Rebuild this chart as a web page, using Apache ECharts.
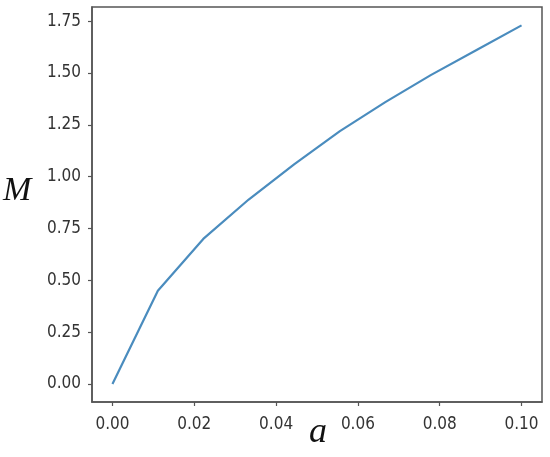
<!DOCTYPE html>
<html>
<head>
<meta charset="utf-8">
<script src="https://cdn.jsdelivr.net/npm/echarts@6/dist/echarts.min.js"></script>
<style>
  html, body { margin: 0; padding: 0; background: #fff; }
  #chart { width: 550px; height: 457px; }
</style>
</head>
<body>
<div id="chart"></div>
<script>
// values
var aValues = [0, 0.0111, 0.0222, 0.0333, 0.0444, 0.0556, 0.0667, 0.0778, 0.0889, 0.1];
var mValues = [0, 0.45, 0.70, 0.89, 1.06, 1.22, 1.36, 1.49, 1.61, 1.73];
var xTicks = [0, 0.02, 0.04, 0.06, 0.08, 0.10];
var yTicks = [0, 0.25, 0.5, 0.75, 1.0, 1.25, 1.5, 1.75];

var tickFont = "'Liberation Sans Narrow', 'DejaVu Sans Condensed', sans-serif";
var myChart = echarts.init(document.getElementById("chart"));

var points = aValues.map(function(a, i) {
  return [a, mValues[i]];
});

var option = {
  animation: false,
  backgroundColor: "#fff",
  grid: {
    left: 92,
    top: 7,
    right: 8,
    bottom: 55,
    show: true,
    borderColor: "#555",
    borderWidth: 1.5,
    backgroundColor: "#fff"
  },
  xAxis: {
    type: "value",
    min: -0.005,
    max: 0.105,
    splitLine: { show: false },
    axisLine: { show: true, onZero: false, lineStyle: { color: "#555", width: 1.5 } },
    axisTick: {
      show: true,
      inside: false,
      length: 4,
      customValues: xTicks,
      lineStyle: { color: "#555", width: 1.2 }
    },
    axisLabel: {
      customValues: xTicks,
      margin: 14,
      fontFamily: tickFont,
      fontSize: 17,
      color: "#333",
      formatter: function(v) { return v.toFixed(2); }
    }
  },
  yAxis: {
    type: "value",
    min: -0.0866,
    max: 1.8186,
    splitLine: { show: false },
    axisLine: { show: true, onZero: false, lineStyle: { color: "#555", width: 1.5 } },
    axisTick: {
      show: true,
      inside: false,
      length: 4,
      customValues: yTicks,
      lineStyle: { color: "#555", width: 1.2 }
    },
    axisLabel: {
      customValues: yTicks,
      margin: 11,
      fontFamily: tickFont,
      fontSize: 17,
      color: "#333",
      formatter: function(v) { return v.toFixed(2); }
    }
  },
  graphic: [
    {
      type: "text",
      left: 3,
      top: 174,
      style: {
        text: "M",
        font: "italic 34px 'Liberation Serif', 'DejaVu Serif', serif",
        fill: "#111"
      }
    },
    {
      type: "text",
      left: 309,
      top: 415,
      style: {
        text: "a",
        font: "italic 36px 'Liberation Serif', 'DejaVu Serif', serif",
        fill: "#111"
      }
    }
  ],
  series: [
    {
      name: "M",
      type: "line",
      data: points,
      showSymbol: false,
      lineStyle: { color: "#4a8cbe", width: 2.2 },
      itemStyle: { color: "#4a8cbe" }
    }
  ]
};
myChart.setOption(option);
</script>
</body>
</html>
